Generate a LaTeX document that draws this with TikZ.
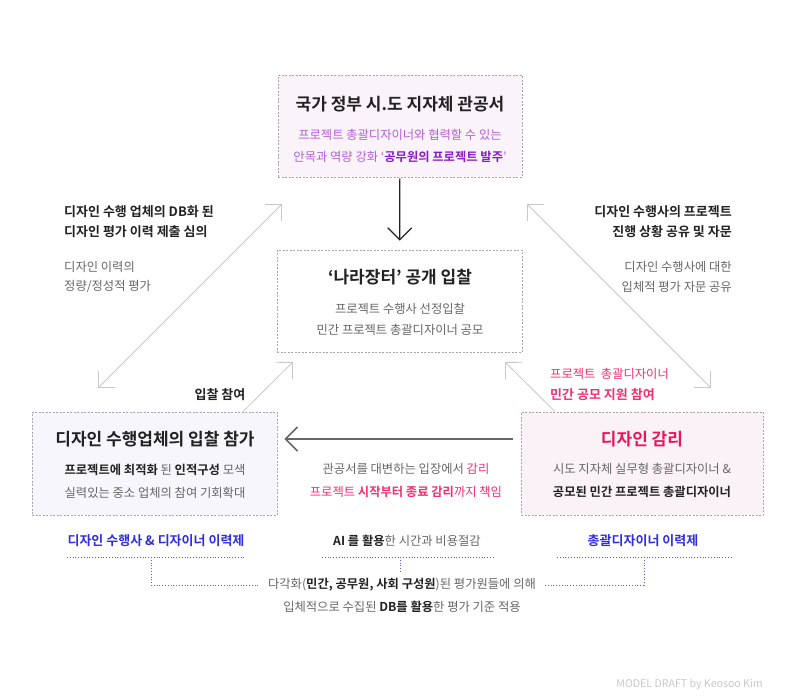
\documentclass[tikz,border=0pt]{standalone}
\usepackage{fontspec}
\setmainfont{Noto Sans CJK KR}[BoldFont={Noto Sans CJK KR Bold}]
\usetikzlibrary{arrows.meta}
\definecolor{ink}{HTML}{222222}
\definecolor{soft}{HTML}{666666}
\definecolor{boxline}{HTML}{A8A8A8}
\definecolor{topfill}{HTML}{FAF3FA}
\definecolor{leftfill}{HTML}{F6F6FC}
\definecolor{rightfill}{HTML}{FBF2F8}
\definecolor{violet}{HTML}{B55FD8}
\definecolor{deepviolet}{HTML}{8A1BC8}
\definecolor{rose}{HTML}{F2306C}
\definecolor{deeprose}{HTML}{EE1458}
\definecolor{blueink}{HTML}{2E2EE0}
\definecolor{bluedot}{HTML}{5A5AF0}
\definecolor{thinline}{HTML}{C8C8C8}
\begin{document}
\begin{tikzpicture}[x=1pt,y=-1pt]
	\tikzset{box/.style={draw=boxline, dash pattern=on 2pt off 1.5pt, line width=0.8pt, inner sep=0pt},
		title/.style={font=\fontsize{17}{20}\selectfont\bfseries, text=ink},
		body/.style={font=\fontsize{12.3}{15}\selectfont, text=soft, inner xsep=0pt},
		head/.style={font=\fontsize{13}{15}\selectfont\bfseries, text=ink, inner xsep=0pt},
		tag/.style={font=\fontsize{13}{15}\selectfont\bfseries, text=blueink},
		arr/.style={-{Straight Barb[angle=90:17pt]}},
		diag/.style={draw=thinline, line width=0.8pt},
		dots/.style={draw=bluedot, line width=1pt, dash pattern=on 1pt off 1.8pt}}
	\useasboundingbox (0,0) rectangle (796,696);
	\node[box, fill=topfill, minimum width=244pt, minimum height=102pt] (topbox) at (400,126) {};
	\node[box, fill=white, minimum width=245pt, minimum height=102pt] (midbox) at (399.5,301) {};
	\node[box, fill=leftfill, minimum width=245pt, minimum height=103pt] (leftbox) at (154.5,463.5) {};
	\node[box, fill=rightfill, minimum width=242pt, minimum height=103pt] (rightbox) at (642,463.5) {};
	\node[title] (toptitle) at (400,104) {국가 정부 시.도 지자체 관공서};
	\node[body, text=violet] (topa) at (400,135) {프로젝트 총괄디자이너와 협력할 수 있는};
	\node[body, text=violet] (topb) at (400,157) {안목과 역량 강화 ‘\textcolor{deepviolet}{\textbf{공무원의 프로젝트 발주}}’};
	\node[title] (midtitle) at (400,277) {‘나라장터’ 공개 입찰};
	\node[body] (mida) at (400,309) {프로젝트 수행사 선정입찰};
	\node[body] (midb) at (400,330) {민간 프로젝트 총괄디자이너 공모};
	\node[title] (lefttitle) at (155,439) {디자인 수행업체의 입찰 참가};
	\node[body] (lefta) at (155,470) {\textcolor{ink}{\textbf{프로젝트에 최적화}} 된 \textcolor{ink}{\textbf{인적구성}} 모색};
	\node[body] (leftb) at (155,493) {실력있는 중소 업체의 참여 기회확대};
	\node[title, text=deeprose] (righttitle) at (642,439) {디자인 감리};
	\node[body] (righta) at (642,469) {시도 지자체 실무형 총괄디자이너 \&};
	\node[body, text=ink, font=\fontsize{12.3}{15}\selectfont\bfseries] (rightb) at (642,492) {공모된 민간 프로젝트 총괄디자이너};
	\node[head, anchor=west] (dba) at (64,212) {디자인 수행 업체의 DB화 된};
	\node[head, anchor=west] (dbb) at (64,232) {디자인 평가 이력 제출 심의};
	\node[body, anchor=west] (dbc) at (64,267) {디자인 이력의};
	\node[body, anchor=west] (dbd) at (64,287) {정량/정성적 평가};
	\node[head, anchor=east] (cna) at (732,212) {디자인 수행사의 프로젝트};
	\node[head, anchor=east] (cnb) at (732,232) {진행 상황 공유 및 자문};
	\node[body, anchor=east] (cnc) at (732,267) {디자인 수행사에 대한};
	\node[body, anchor=east] (cnd) at (732,287) {입체적 평가 자문 공유};
	\node[head] (bid) at (220,395) {입찰 참여};
	\node[body, text=rose, anchor=west] (pja) at (550,374) {프로젝트\ \ 총괄디자이너};
	\node[head, text=rose, anchor=west] (pjb) at (550,395) {민간 공모 지원 참여};
	\node[body] (sva) at (406,469) {관공서를 대변하는 입장에서 \textcolor{rose}{감리}};
	\node[body, text=rose] (svb) at (406,492) {프로젝트 \textbf{시작부터 종료 감리}까지 책임};
	\node[tag] (tagl) at (156,541) {디자인 수행사 \& 디자이너 이력제};
	\node[body] (tagm) at (407,541) {\textcolor{ink}{\textbf{AI 를 활용}}한 시간과 비용절감};
	\node[tag] (tagr) at (643,541) {총괄디자이너 이력제};
	\node[body] (sum) at (402,585) {다각화(\textcolor{ink}{\textbf{민간, 공무원, 사회 구성원}})된 평가원들에 의해};
	\node[body] (sumb) at (402,607) {입체적으로 수집된 \textcolor{ink}{\textbf{DB를 활용}}한 평가 기준 적용};
	\node[font=\fontsize{10.6}{12}\selectfont, text=thinline, anchor=east, inner xsep=0pt] (sign) at (763,685) {MODEL DRAFT by Keosoo Kim};
	\coordinate (la) at (98,388);
	\coordinate (lb) at (282,204);
	\coordinate (lc) at (293,362);
	\coordinate (ra) at (527,204);
	\coordinate (rb) at (711,388);
	\coordinate (rc) at (505,362);
	\draw[diag, {Straight Barb[angle=90:17pt]}-{Straight Barb[angle=90:17pt]}] (la) -- (lb);
	\draw[diag, arr] ([xshift=88.5pt]leftbox.north) -- (lc);
	\draw[diag, {Straight Barb[angle=90:17pt]}-{Straight Barb[angle=90:17pt]}] (ra) -- (rb);
	\draw[diag, arr] ([xshift=-87pt]rightbox.north) -- (rc);
	\draw[arr, line width=1.2pt, draw=ink, shorten <=1pt, shorten >=9pt] (topbox) -- (midbox);
	\draw[arr, line width=1.5pt, draw=soft, shorten <=8pt, shorten >=7pt] ([yshift=24.5pt]rightbox.west) -- ([yshift=24.5pt]leftbox.east);
	\coordinate (ula) at (67,557);
	\coordinate (ulb) at (245,557);
	\coordinate (uma) at (322,557);
	\coordinate (umb) at (493,557);
	\coordinate (ura) at (557,557);
	\coordinate (urb) at (733,557);
	\draw[dots] (ula) -- (ulb);
	\draw[dots] (uma) -- (umb);
	\draw[dots] (ura) -- (urb);
	\draw[dots] (151,557) |- ([xshift=-8pt]sum.west |- 0,585);
	\draw[dots] (400,557) -- (400,572);
	\draw[dots] (644,557) |- ([xshift=8pt]sum.east |- 0,585);
\end{tikzpicture}
\end{document}
